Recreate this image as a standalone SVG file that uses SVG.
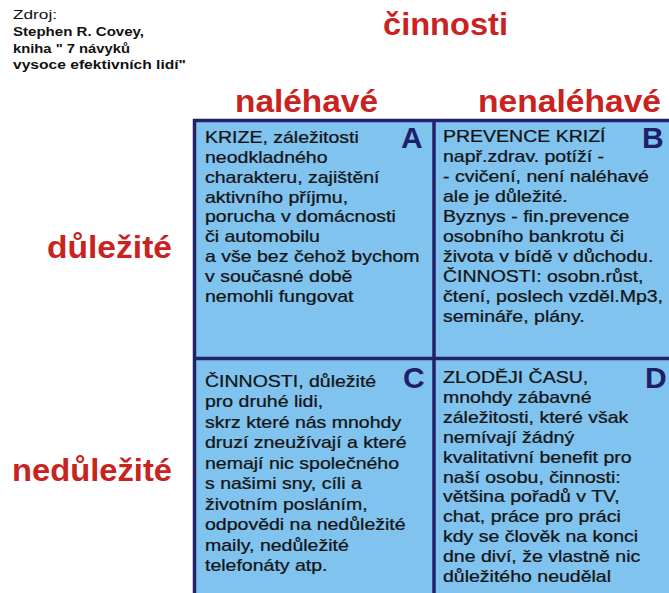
<svg xmlns="http://www.w3.org/2000/svg" width="669" height="593" viewBox="0 0 669 593">
<style>
.src{font-family:"Liberation Sans",Arial,sans-serif;font-size:13px;fill:#111}
.srcb{font-weight:bold}
.head{font-family:"Liberation Sans",Arial,sans-serif;font-weight:bold;font-size:32px;fill:#c8231f}
.body{font-family:"Liberation Sans",Arial,sans-serif;font-size:16px;fill:#141414;stroke:#141414;stroke-width:0.25}
.let{font-family:"Liberation Sans",Arial,sans-serif;font-weight:bold;font-size:30px;fill:#1f1f6b}
.cell{fill:#80c3ef}
.line{stroke:#22226a;stroke-width:3.5;fill:none}
</style>
<rect width="669" height="593" fill="#ffffff"/>
<g id="source">
<text class="src" x="13" y="19" textLength="44" lengthAdjust="spacingAndGlyphs">Zdroj:</text>
<text class="src srcb" x="13" y="36" textLength="131" lengthAdjust="spacingAndGlyphs">Stephen R. Covey,</text>
<text class="src srcb" x="13" y="53" textLength="117" lengthAdjust="spacingAndGlyphs">kniha " 7 návyků</text>
<text class="src srcb" x="13" y="69" textLength="173" lengthAdjust="spacingAndGlyphs">vysoce efektivních lidí"</text>
</g>
<g id="headers">
<text class="head" x="383" y="35" textLength="125" lengthAdjust="spacingAndGlyphs">činnosti</text>
<text class="head" x="235" y="112" textLength="143" lengthAdjust="spacingAndGlyphs">naléhavé</text>
<text class="head" x="478" y="112" textLength="183" lengthAdjust="spacingAndGlyphs">nenaléhavé</text>
<text class="head" x="47" y="258" textLength="125" lengthAdjust="spacingAndGlyphs">důležité</text>
<text class="head" x="12" y="481" textLength="160" lengthAdjust="spacingAndGlyphs">nedůležité</text>
</g>
<g id="grid">
<rect class="cell" x="193" y="119" width="480" height="480"/>
<path class="line" d="M194.5,600 V120.5 H672 M434,120 V600 M194,358.5 H672"/>
</g>
<g id="cellA">
<text class="let" x="401" y="148">A</text>
<g transform="translate(205,0) scale(1.22,1)">
<text class="body" x="0" y="143">KRIZE, záležitosti</text>
<text class="body" x="0" y="163">neodkladného</text>
<text class="body" x="0" y="183">charakteru, zajištění</text>
<text class="body" x="0" y="203">aktivního příjmu,</text>
<text class="body" x="0" y="222">porucha v domácnosti</text>
<text class="body" x="0" y="242">či automobilu</text>
<text class="body" x="0" y="262">a vše bez čehož bychom</text>
<text class="body" x="0" y="282">v současné době</text>
<text class="body" x="0" y="302">nemohli fungovat</text>
</g>
</g>
<g id="cellB">
<text class="let" x="642" y="148">B</text>
<g transform="translate(443,0) scale(1.22,1)">
<text class="body" x="0" y="142">PREVENCE KRIZÍ</text>
<text class="body" x="0" y="162">např.zdrav. potíží -</text>
<text class="body" x="0" y="182">- cvičení, není naléhavé</text>
<text class="body" x="0" y="202">ale je důležité.</text>
<text class="body" x="0" y="222">Byznys - fin.prevence</text>
<text class="body" x="0" y="242">osobního bankrotu či</text>
<text class="body" x="0" y="262">života v bídě v důchodu.</text>
<text class="body" x="0" y="282">ČINNOSTI: osobn.růst,</text>
<text class="body" x="0" y="302">čtení, poslech vzděl.Mp3,</text>
<text class="body" x="0" y="322">semináře, plány.</text>
</g>
</g>
<g id="cellC">
<text class="let" x="403" y="388">C</text>
<g transform="translate(205,0) scale(1.22,1)">
<text class="body" x="0" y="387">ČINNOSTI, důležité</text>
<text class="body" x="0" y="407">pro druhé lidi,</text>
<text class="body" x="0" y="428">skrz které nás mnohdy</text>
<text class="body" x="0" y="448">druzí zneužívají a které</text>
<text class="body" x="0" y="469">nemají nic společného</text>
<text class="body" x="0" y="489">s našimi sny, cíli a</text>
<text class="body" x="0" y="510">životním posláním,</text>
<text class="body" x="0" y="530">odpovědi na nedůležité</text>
<text class="body" x="0" y="551">maily, nedůležité</text>
<text class="body" x="0" y="571">telefonáty atp.</text>
</g>
</g>
<g id="cellD">
<text class="let" x="645" y="388">D</text>
<g transform="translate(443,0) scale(1.22,1)">
<text class="body" x="0" y="383">ZLODĚJI ČASU,</text>
<text class="body" x="0" y="403">mnohdy zábavné</text>
<text class="body" x="0" y="423">záležitosti, které však</text>
<text class="body" x="0" y="443">nemívají žádný</text>
<text class="body" x="0" y="463">kvalitativní benefit pro</text>
<text class="body" x="0" y="483">naší osobu, činnosti:</text>
<text class="body" x="0" y="502">většina pořadů v TV,</text>
<text class="body" x="0" y="522">chat, práce pro práci</text>
<text class="body" x="0" y="542">kdy se člověk na konci</text>
<text class="body" x="0" y="562">dne diví, že vlastně nic</text>
<text class="body" x="0" y="582">důležitého neudělal</text>
</g>
</g>
</svg>
